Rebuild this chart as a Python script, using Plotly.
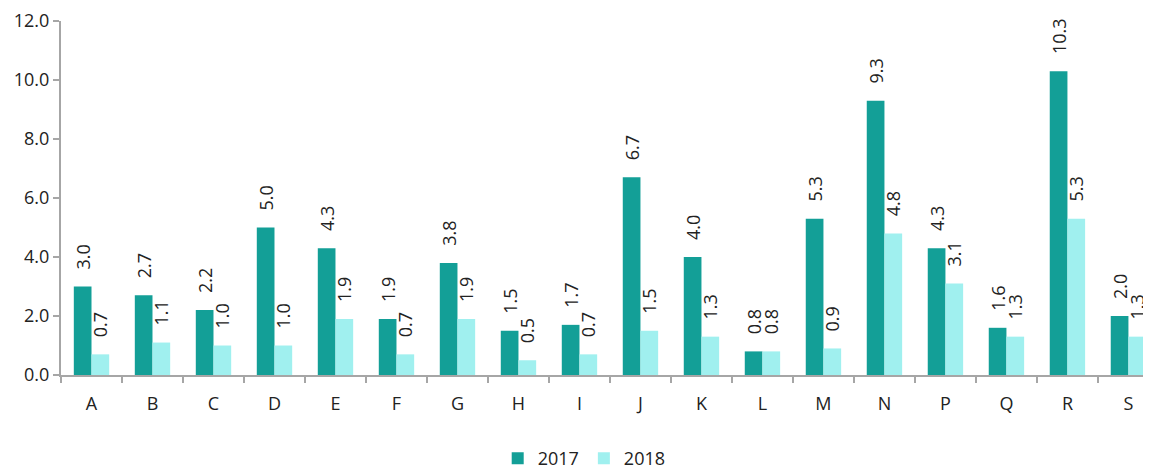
import plotly.graph_objects as go

categories = ["A", "B", "C", "D", "E", "F", "G", "H", "I", "J", "K", "L", "M", "N", "P", "Q", "R", "S"]
values_2017 = [3.0, 2.7, 2.2, 5.0, 4.3, 1.9, 3.8, 1.5, 1.7, 6.7, 4.0, 0.8, 5.3, 9.3, 4.3, 1.6, 10.3, 2.0]
values_2018 = [0.7, 1.1, 1.0, 1.0, 1.9, 0.7, 1.9, 0.5, 0.7, 1.5, 1.3, 0.8, 0.9, 4.8, 3.1, 1.3, 5.3, 1.3]
y_ticks = [0, 2, 4, 6, 8, 10, 12]

FONT = "Open Sans"
PAD = "\u00a0\u00a0\u00a0"  # gap between bar top and rotated label
fig = go.Figure()
for name, vals, color in [("2017", values_2017, "#139f97"), ("2018", values_2018, "#a0f0ef")]:
    fig.add_trace(go.Bar(
        x=categories, y=vals, name=name, marker_color=color, marker_line_width=0,
        text=[PAD + f"{v:.1f}" for v in vals], textposition="outside", textangle=-90,
        textfont=dict(family=FONT, size=18, color="#222222"), cliponaxis=False,
        constraintext="none",
    ))

# page body has an 8px margin, so the figure is sized/offset to compensate
fig.update_layout(
    width=1143, height=462,
    margin=dict(l=53, r=0, t=13, b=95, autoexpand=False),
    paper_bgcolor="white", plot_bgcolor="white",
    barmode="group", bargap=0.42, bargroupgap=0,
    uniformtext=dict(mode=False),
    font=dict(family=FONT, size=18, color="#222222"),
    legend=dict(orientation="h", x=0.48, xanchor="center", y=-0.236, yanchor="middle",
                font=dict(family=FONT, size=18), itemwidth=30, traceorder="normal"),
)
fig.update_xaxes(
    range=[-0.5, 17.37], showline=True, linecolor="#a6a6a6", linewidth=2,
    ticks="outside", tickson="boundaries", ticklen=6, tickcolor="#a6a6a6", tickwidth=2,
    ticklabelstandoff=11, tickfont=dict(family=FONT, size=18), showgrid=False, automargin=False,
)
fig.update_yaxes(
    range=[0, 12], tickvals=y_ticks, tickformat=".1f", showline=True, linecolor="#a6a6a6",
    linewidth=2, ticks="outside", ticklen=6, tickcolor="#a6a6a6", tickwidth=2,
    tickfont=dict(family=FONT, size=18), showgrid=False, zeroline=False, automargin=False,
)
fig.write_html("out.html")
